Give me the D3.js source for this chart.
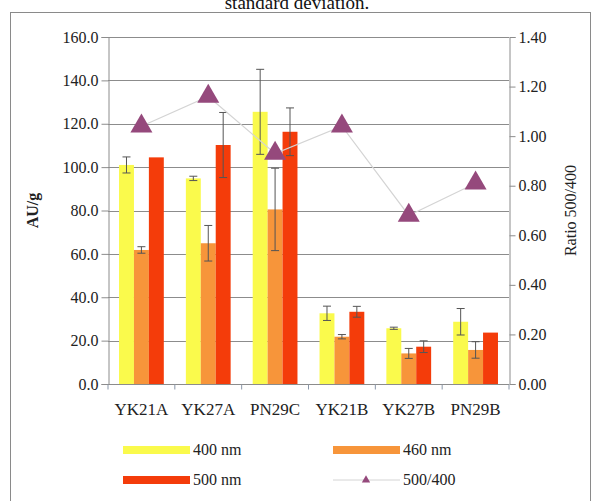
<!DOCTYPE html>
<html lang="en">
<head>
    <meta charset="UTF-8">
    <title>AU/g by sample</title>
    <script src="https://d3js.org/d3.v7.min.js"></script>
    <style>
        body { margin: 0; background: #fff; }
        svg { display: block; }
        svg text { font-family: "Liberation Serif", "Times New Roman", "DejaVu Serif", serif !important; }
    </style>
</head>
<body>
    <div id="chart"></div>
    <script>
        const samples = ["YK21A", "YK27A", "PN29C", "YK21B", "YK27B", "PN29B"];
        const seriesNames = ["400 nm", "460 nm", "500 nm"];
        const seriesColors = ["#fafa4c", "#f7953a", "#f43c0a"];

        const nm400 = [101.0, 94.8, 125.5, 32.6, 25.7, 28.7];
        const nm460 = [61.8, 64.9, 80.5, 21.8, 14.1, 15.7];
        const nm500 = [104.5, 110.2, 116.3, 33.3, 17.2, 23.7];

        const sd400 = [3.7, 1.0, 19.6, 3.3, 0.5, 6.1];
        const sd460 = [1.5, 8.2, 19.0, 1.0, 2.3, 3.8];
        const sd500 = [0, 15.0, 11.0, 2.5, 2.7, 0];

        const ratio = [1.04, 1.16, 0.93, 1.04, 0.68, 0.81];

        const leftTicks = [0, 20, 40, 60, 80, 100, 120, 140, 160];
        const rightTicks = [0, 0.2, 0.4, 0.6, 0.8, 1.0, 1.2, 1.4];

        const width = 593;
        const height = 501;
        const plot = { left: 108, right: 509, top: 37, bottom: 384 };

        const values = [nm400, nm460, nm500];
        const sds = [sd400, sd460, sd500];

        const svg = d3.select("#chart").append("svg")
            .attr("width", width)
            .attr("height", height)
            .attr("viewBox", [0, 0, width, height]);

        // frame round the chart and the cut title line
        svg.append("rect")
            .attr("x", 10.5).attr("y", 12.5)
            .attr("width", 580).attr("height", 500)
            .attr("fill", "none")
            .attr("stroke", "#8a8a8a");

        svg.append("text")
            .attr("x", 297).attr("y", 9)
            .attr("text-anchor", "middle")
            .attr("font-size", 19)
            .attr("fill", "#111")
            .text("standard deviation.");

        const x = d3.scaleBand()
            .domain(samples)
            .range([plot.left, plot.right])
            .paddingInner(0.33)
            .paddingOuter(0.165);

        const xSub = d3.scaleBand()
            .domain(d3.range(3))
            .range([0, x.bandwidth()]);

        const y = d3.scaleLinear().domain([0, 160]).range([plot.bottom, plot.top]);
        const y2 = d3.scaleLinear().domain([0, 1.4]).range([plot.bottom, plot.top]);

        // gridlines
        svg.append("g")
            .selectAll("line")
            .data(leftTicks.slice(1))
            .join("line")
            .attr("x1", plot.left).attr("x2", plot.right)
            .attr("y1", d => Math.round(y(d)) + 0.5)
            .attr("y2", d => Math.round(y(d)) + 0.5)
            .attr("stroke", "#8c8c8c");

        // left axis
        const yAxis = svg.append("g")
            .attr("transform", `translate(${plot.left + 0.5},0)`)
            .call(d3.axisLeft(y).tickValues(leftTicks).tickFormat(d3.format(".1f")).tickSize(7).tickPadding(3));
        yAxis.select(".domain").attr("stroke", "#8c8c8c");
        yAxis.selectAll(".tick line").attr("stroke", "#8c8c8c");
        yAxis.selectAll(".tick text").attr("font-size", 16).attr("fill", "#222");

        // right axis
        const y2Axis = svg.append("g")
            .attr("transform", `translate(${plot.right + 0.5},0)`)
            .call(d3.axisRight(y2).tickValues(rightTicks).tickFormat(d3.format(".2f")).tickSize(6).tickPadding(3));
        y2Axis.select(".domain").attr("stroke", "#8c8c8c");
        y2Axis.selectAll(".tick line").attr("stroke", "#8c8c8c");
        y2Axis.selectAll(".tick text").attr("font-size", 16).attr("fill", "#222");

        // bars
        const groups = svg.append("g")
            .selectAll("g")
            .data(samples)
            .join("g")
            .attr("transform", d => `translate(${x(d)},0)`);

        groups.selectAll("rect")
            .data((d, i) => values.map((v, s) => ({ s, v: v[i], sd: sds[s][i] })))
            .join("rect")
            .attr("x", d => xSub(d.s))
            .attr("y", d => y(d.v))
            .attr("width", xSub.bandwidth())
            .attr("height", d => y(0) - y(d.v))
            .attr("fill", d => seriesColors[d.s]);

        // error bars
        const errs = groups.selectAll("g.err")
            .data((d, i) => values.map((v, s) => ({ s, v: v[i], sd: sds[s][i] })).filter(d => d.sd > 0))
            .join("g")
            .attr("class", "err")
            .attr("stroke", "#555")
            .attr("stroke-width", 1);

        errs.append("line")
            .attr("x1", d => xSub(d.s) + xSub.bandwidth() / 2)
            .attr("x2", d => xSub(d.s) + xSub.bandwidth() / 2)
            .attr("y1", d => y(d.v - d.sd))
            .attr("y2", d => y(d.v + d.sd));
        errs.selectAll("line.cap")
            .data(d => [d.v - d.sd, d.v + d.sd].map(e => ({ s: d.s, e })))
            .join("line")
            .attr("class", "cap")
            .attr("x1", d => xSub(d.s) + xSub.bandwidth() / 2 - 4)
            .attr("x2", d => xSub(d.s) + xSub.bandwidth() / 2 + 4)
            .attr("y1", d => y(d.e))
            .attr("y2", d => y(d.e));

        // bottom axis
        const xAxis = svg.append("g")
            .attr("transform", `translate(0,${plot.bottom + 0.5})`);
        xAxis.append("line")
            .attr("x1", plot.left).attr("x2", plot.right)
            .attr("stroke", "#8c8c8c");
        const step = x.step();
        xAxis.selectAll("line.tk")
            .data(d3.range(samples.length + 1))
            .join("line")
            .attr("class", "tk")
            .attr("x1", i => plot.left + i * step)
            .attr("x2", i => plot.left + i * step)
            .attr("y1", 0).attr("y2", 5)
            .attr("stroke", "#8a96a8");
        xAxis.selectAll("text")
            .data(samples)
            .join("text")
            .attr("x", d => x(d) + x.bandwidth() / 2)
            .attr("y", 30)
            .attr("text-anchor", "middle")
            .attr("font-size", 17)
            .attr("fill", "#222")
            .text(d => d);

        // ratio line and markers
        const ratioPts = samples.map((d, i) => [x(d) + x.bandwidth() / 2, y2(ratio[i])]);
        svg.append("path")
            .attr("d", d3.line()(ratioPts))
            .attr("fill", "none")
            .attr("stroke", "#d4d4d4")
            .attr("stroke-width", 1.2);

        const tri = d3.symbol().type(d3.symbolTriangle).size(210);
        svg.append("g")
            .selectAll("path")
            .data(ratioPts)
            .join("path")
            .attr("transform", d => `translate(${d[0]},${d[1]})`)
            .attr("d", tri)
            .attr("fill", "#95497c");

        // axis titles
        svg.append("text")
            .attr("transform", `translate(38,${(plot.top + plot.bottom) / 2}) rotate(-90)`)
            .attr("text-anchor", "middle")
            .attr("font-size", 16)
            .attr("font-weight", "bold")
            .attr("fill", "#222")
            .text("AU/g");

        svg.append("text")
            .attr("transform", `translate(576,${(plot.top + plot.bottom) / 2}) rotate(-90)`)
            .attr("text-anchor", "middle")
            .attr("font-size", 16)
            .attr("fill", "#222")
            .text("Ratio 500/400");

        // legend
        const legend = svg.append("g");
        const legendItems = [
            { name: seriesNames[0], color: seriesColors[0], x: 123, y: 450 },
            { name: seriesNames[1], color: seriesColors[1], x: 333, y: 450 },
            { name: seriesNames[2], color: seriesColors[2], x: 123, y: 480 }
        ];
        legendItems.forEach(d => {
            legend.append("rect")
                .attr("x", d.x).attr("y", d.y - 4)
                .attr("width", 67).attr("height", 8)
                .attr("fill", d.color);
            legend.append("text")
                .attr("x", d.x + 70).attr("y", d.y + 5)
                .attr("font-size", 16)
                .attr("fill", "#222")
                .text(d.name);
        });
        legend.append("line")
            .attr("x1", 333).attr("x2", 400)
            .attr("y1", 480).attr("y2", 480)
            .attr("stroke", "#d4d4d4");
        legend.append("path")
            .attr("transform", "translate(366,480)")
            .attr("d", d3.symbol().type(d3.symbolTriangle).size(30))
            .attr("fill", "#95497c");
        legend.append("text")
            .attr("x", 403).attr("y", 485)
            .attr("font-size", 16)
            .attr("fill", "#222")
            .text("500/400");
    </script>
</body>
</html>
